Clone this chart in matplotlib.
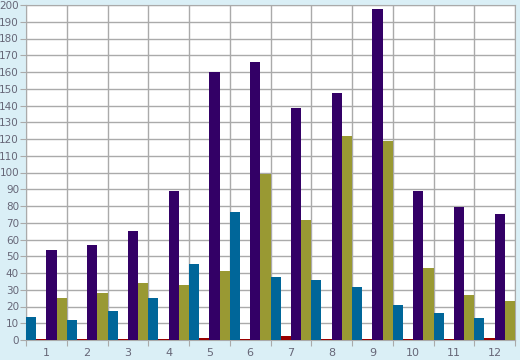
import numpy as np
import matplotlib.pyplot as plt

categorias = ["1", "2", "3", "4", "5", "6", "7", "8", "9", "10", "11", "12"]
azul = [14, 12, 17.5, 25, 45.5, 76.5, 37.5, 36, 31.5, 21, 16, 13]
rojo = [0.8, 0.3, 0.3, 0.3, 1.2, 0.3, 2.4, 0.3, 0.3, 0.3, 0.3, 1.2]
morado = [53.7, 56.7, 65, 89, 160, 166, 138.5, 147.5, 197.5, 89, 79.5, 75]
oliva = [25, 28, 34, 33, 41, 99, 71.5, 122, 119, 43, 27, 23.3]

series = [azul, rojo, morado, oliva]
colores = ["#006699", "#990000", "#330066", "#999933"]

fondo = "#daeff6"
fig = plt.figure(figsize=(5.2, 3.6), dpi=100, facecolor=fondo)
ax = fig.add_axes([26 / 520, 20 / 360, 489 / 520, 335 / 360])
ax.set_facecolor("white")

x = np.arange(len(categorias))
ancho = 0.25
for i, (vals, c) in enumerate(zip(series, colores)):
    ax.bar(x + i * ancho, vals, width=ancho, align="edge", color=c,
           linewidth=0, zorder=3)

ax.set_xlim(0, len(categorias))
ax.set_ylim(0, 200)
ax.set_yticks(np.arange(0, 201, 10))
ax.set_xticks(np.arange(0, len(categorias) + 1))
ax.set_xticklabels([])
ax.set_xticks(x + 0.5, minor=True)
ax.set_xticklabels(categorias, minor=True)

gris = "#aaaaaa"
ax.grid(True, which="major", color=gris, linewidth=1, zorder=0)
for s in ax.spines.values():
    s.set_color(gris)
ax.tick_params(axis="y", which="major", length=4, color=gris, labelsize=7.5,
               labelcolor="#666677", pad=1)
ax.tick_params(axis="x", which="major", length=4, color=gris)
ax.tick_params(axis="x", which="minor", length=0, labelsize=8,
               labelcolor="#666677", pad=6)

fig.savefig("out.png", dpi=100, facecolor=fondo)
